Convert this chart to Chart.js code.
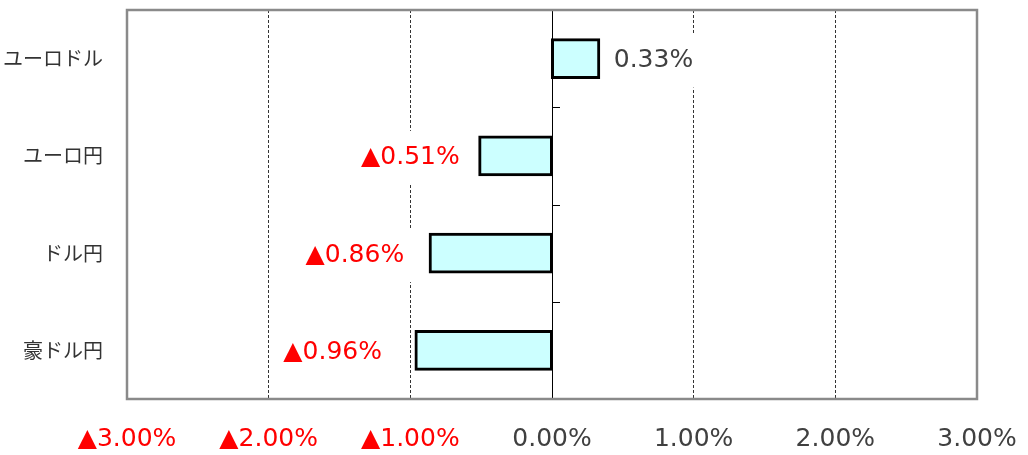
<!DOCTYPE html>
<html>
<head>
<meta charset="utf-8">
<script src="https://cdn.jsdelivr.net/npm/chart.js@4/dist/chart.umd.min.js"></script>
<style>
  html, body { margin: 0; padding: 0; background: #fff; }
  #wrap { width: 1028px; height: 455px; }
</style>
</head>
<body>
<div id="wrap"><canvas id="chart" width="1028" height="455"></canvas></div>
<script>
// Currency pairs and their change (%)
const pairs = ['ユーロドル', 'ユーロ円', 'ドル円', '豪ドル円'];
const changes = [0.33, -0.51, -0.86, -0.96];
const axisMin = -3;
const axisMax = 3;

const RED = '#ff0000';
const DARK = '#404040';
const NUM_FONT = 'DejaVu Sans';

function fmt(v) {
    const s = Math.abs(v).toFixed(2) + '%';
    return v < 0 ? '▲' + s : s;
}

// Draws the frame, the small ticks on the zero line and the value labels
const decorPlugin = {
    id: 'decor',
    afterDatasetsDraw(chart) {
        const ctx = chart.ctx;
        const area = chart.chartArea;
        const x = chart.scales.x;
        const y = chart.scales.y;
        const zeroX = x.getPixelForValue(0);

        // small tick marks on the zero line between categories
        ctx.save();
        ctx.strokeStyle = '#000';
        ctx.lineWidth = 1;
        for (let i = 0; i <= pairs.length; i++) {
            const py = Math.round(y.getPixelForValue(i - 0.5)) + 0.5;
            ctx.beginPath();
            ctx.moveTo(zeroX, py);
            ctx.lineTo(zeroX + 8, py);
            ctx.stroke();
        }
        ctx.restore();

        // value labels with white background
        const gaps = [15, 20, 26, 34];
        const meta = chart.getDatasetMeta(0);
        ctx.save();
        ctx.font = '25px "' + NUM_FONT + '"';
        ctx.textBaseline = 'middle';
        meta.data.forEach((bar, i) => {
            const v = changes[i];
            const text = fmt(v);
            const w = ctx.measureText(text).width;
            const cy = bar.y + 2;
            let left;
            if (v >= 0) {
                left = bar.x + gaps[i];
            } else {
                left = bar.x - gaps[i] - w;
            }
            ctx.fillStyle = '#fff';
            ctx.fillRect(left - 8, cy - 27, w + 16, 54);
            ctx.fillStyle = v < 0 ? RED : DARK;
            ctx.textAlign = 'left';
            ctx.fillText(text, left, cy);
        });
        ctx.restore();

        // gray frame round the plot area
        ctx.save();
        ctx.strokeStyle = '#8a8a8a';
        ctx.lineWidth = 2.5;
        ctx.strokeRect(area.left, area.top, area.right - area.left, area.bottom - area.top);
        ctx.restore();
    }
};

new Chart(document.getElementById('chart').getContext('2d'), {
    type: 'bar',
    data: {
        labels: pairs,
        datasets: [{
            data: changes,
            backgroundColor: '#ccffff',
            borderColor: '#000',
            borderWidth: 3,
            borderSkipped: false,
            inflateAmount: 1.5,
            categoryPercentage: 1,
            barPercentage: 0.39
        }]
    },
    plugins: [decorPlugin],
    options: {
        indexAxis: 'y',
        responsive: false,
        animation: false,
        layout: { padding: { top: 10, right: 51, bottom: 0, left: 0 } },
        plugins: {
            legend: { display: false },
            tooltip: { enabled: false }
        },
        scales: {
            x: {
                min: axisMin,
                max: axisMax,
                afterFit(scale) {
                    scale.height = 56;
                    scale.paddingLeft = 0;
                    scale.paddingRight = 0;
                },
                grid: {
                    drawTicks: false,
                    lineWidth: 1,
                    color: ctx => (ctx.tick && ctx.tick.value === 0) ? '#000' : '#333'
                },
                border: {
                    display: false,
                    dash: ctx => (ctx.tick && ctx.tick.value === 0) ? [] : [3, 2]
                },
                ticks: {
                    stepSize: 1,
                    padding: 25,
                    maxRotation: 0,
                    font: { family: NUM_FONT, size: 25 },
                    color: ctx => ctx.tick.value < 0 ? RED : DARK,
                    callback: v => fmt(v)
                }
            },
            y: {
                afterFit(scale) {
                    scale.width = 127;
                    scale.paddingTop = 0;
                    scale.paddingBottom = 0;
                },
                grid: { display: false, drawTicks: false },
                border: { display: false },
                ticks: {
                    padding: 24,
                    font: { family: 'Noto Sans CJK JP', size: 20 },
                    color: '#333'
                }
            }
        }
    }
});
</script>
</body>
</html>
